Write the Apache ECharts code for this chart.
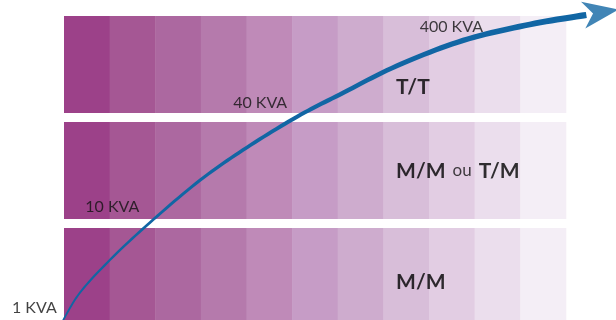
<!DOCTYPE html>
<html>
<head>
<meta charset="utf-8">
<script src="https://cdn.jsdelivr.net/npm/echarts@6/dist/echarts.min.js"></script>
<style>
  html, body { margin: 0; padding: 0; background: #fff; }
  #chart { width: 616px; height: 320px; }
</style>
</head>
<body>
<div id="chart"></div>
<script>
// one shade per column, dark -> light
const columnColors = ['#9c4189', '#a55794', '#ac68a0', '#b57aac', '#bf8ab8', '#c69cc6',
  '#ceacce', '#d8bed9', '#e2cde3', '#ebdeed', '#f4eef6']
// bands, bottom to top
const bandNames = ['M/M', 'M/M ou T/M', 'T/T']
const bandLabelPoints = [[7.28, 0.49], [7.28, 1.54], [7.28, 2.33]]
const kvaLabels = ['1 KVA', '10 KVA', '40 KVA', '400 KVA']
const kvaLabelPoints = [[-0.65, 0.245], [1.06, 1.2], [4.3, 2.18], [8.49, 2.9]]
// the rising curve (x in columns, y in bands)
const curvePoints = [[-0.02, 0.13], [0.35, 0.39], [1.01, 0.70], [1.88, 1.05], [2.98, 1.45],
  [4.01, 1.76], [5.11, 2.05], [6.05, 2.26], [7.30, 2.53], [8.75, 2.77], [10.21, 2.92], [11.45, 3.01]]
const arrowHeadPoint = [11.77, 3.035]

const cells = []
bandNames.forEach((b, r) => {
  columnColors.forEach((c, i) => cells.push([i, r]))
})

// tapered stroke through the curve points (thin at the start, thick at the arrow)
function renderCurve(params, api) {
  const pts = curvePoints.map(p => api.coord(p))
  const n = pts.length
  const line = []
  for (let i = 0; i < n - 1; i++) {
    const p0 = pts[Math.max(i - 1, 0)], p1 = pts[i], p2 = pts[i + 1], p3 = pts[Math.min(i + 2, n - 1)]
    for (let s = 0; s < 12; s++) {
      const t = s / 12, t2 = t * t, t3 = t2 * t
      const f = k => 0.5 * (2 * p1[k] + (-p0[k] + p2[k]) * t +
        (2 * p0[k] - 5 * p1[k] + 4 * p2[k] - p3[k]) * t2 + (-p0[k] + 3 * p1[k] - 3 * p2[k] + p3[k]) * t3)
      line.push([f(0), f(1)])
    }
  }
  line.push(pts[n - 1])
  const len = [0]
  for (let i = 1; i < line.length; i++) {
    len.push(len[i - 1] + Math.hypot(line[i][0] - line[i - 1][0], line[i][1] - line[i - 1][1]))
  }
  const total = len[len.length - 1]
  const left = [], right = []
  line.forEach((p, i) => {
    const a = line[Math.max(i - 1, 0)], b = line[Math.min(i + 1, line.length - 1)]
    const dx = b[0] - a[0], dy = b[1] - a[1], d = Math.hypot(dx, dy) || 1
    const w = (1.8 + 4.4 * len[i] / total) / 2
    left.push([p[0] - dy / d * w, p[1] + dx / d * w])
    right.push([p[0] + dy / d * w, p[1] - dx / d * w])
  })
  return {
    type: 'polygon',
    shape: { points: left.concat(right.reverse()) },
    style: { fill: '#1166a4' }
  }
}

const chart = echarts.init(document.getElementById('chart'), null, { renderer: 'canvas' })
chart.setOption({
  animation: false,
  grid: { left: 64, right: 0, top: 16, bottom: 0 },
  xAxis: { type: 'value', min: 0, max: 12.1, show: false },
  yAxis: { type: 'value', min: 0.132, max: 3, show: false },
  series: [
    {
      type: 'custom',
      silent: true,
      data: cells,
      renderItem(params, api) {
        const col = api.value(0)
        const row = api.value(1)
        const p = api.coord([col, row + 1])
        const size = api.size([1, 1])
        return {
          type: 'rect',
          shape: { x: p[0], y: p[1], width: size[0] + 0.5, height: size[1] - 9 },
          style: { fill: columnColors[col] }
        }
      }
    },
    {
      type: 'custom',
      silent: true,
      data: [curvePoints[0]],
      renderItem: renderCurve,
      z: 5
    },
    {
      type: 'scatter',
      silent: true,
      clip: false,
      data: [arrowHeadPoint],
      symbol: 'path://M0,0 L36,13.5 L0,27 L10,13.5 Z',
      symbolSize: [36, 27],
      symbolRotate: 9,
      itemStyle: { color: '#1166a4' },
      z: 6
    },
    {
      type: 'scatter',
      silent: true,
      clip: false,
      symbolSize: 0,
      data: kvaLabels.map((t, i) => ({ name: t, value: kvaLabelPoints[i] })),
      label: {
        show: true,
        position: 'inside',
        formatter: '{b}',
        fontFamily: 'Lato',
        fontSize: 16,
        color: '#111'
      },
      z: 7
    },
    {
      type: 'scatter',
      silent: true,
      clip: false,
      symbolSize: 0,
      data: bandNames.map((t, i) => ({ name: t, value: bandLabelPoints[i] })),
      label: {
        show: true,
        position: 'right',
        distance: 0,
        formatter: p => p.name.split(' ').map(w => w === 'ou' ? '{n|ou}' : '{b|' + w + '}').join(''),
        rich: {
          b: { fontFamily: 'Lato', fontWeight: 'bold', fontSize: 21, color: '#000' },
          n: { fontFamily: 'Lato', fontSize: 17, color: '#111', padding: [0, 7, 0, 7] }
        }
      },
      z: 7
    }
  ]
})
</script>
</body>
</html>
